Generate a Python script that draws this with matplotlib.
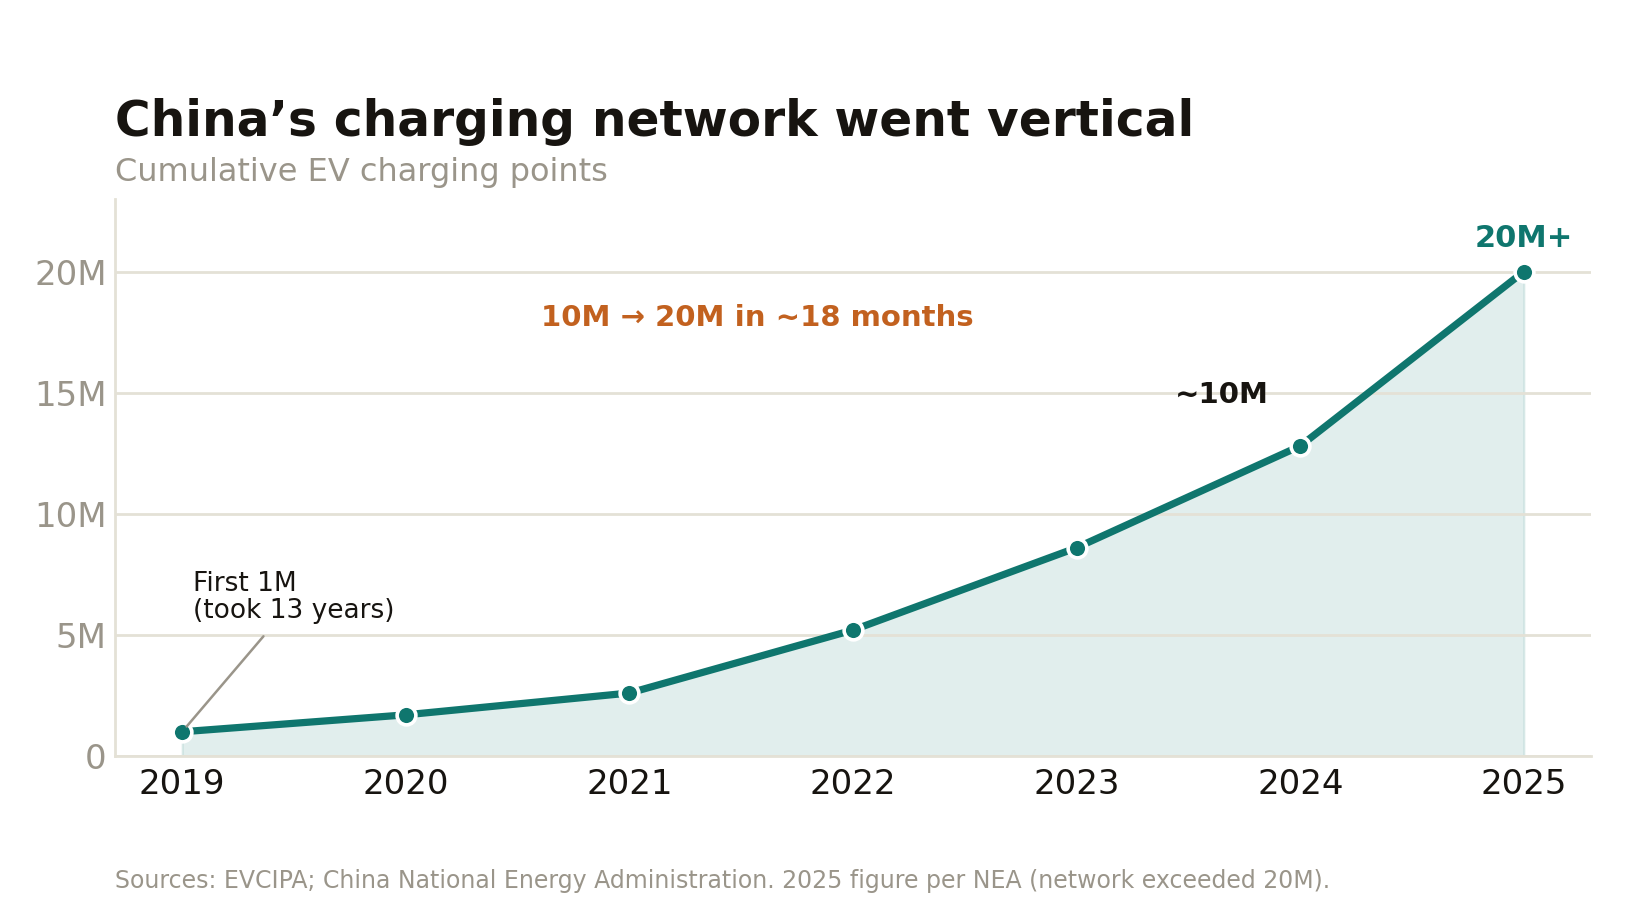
import numpy as np
import matplotlib
matplotlib.use("Agg")
import matplotlib.pyplot as plt
from matplotlib.ticker import FuncFormatter

# data (cumulative charging points, millions)
years = [2019, 2020, 2021, 2022, 2023, 2024, 2025]
points_m = [1.0, 1.7, 2.6, 5.2, 8.6, 12.8, 20.0]
yticks = [0, 5, 10, 15, 20]

teal = "#0f766e"
orange = "#c2611f"
grey = "#9a958a"
ink = "#171410"
rule = "#e4e1d6"

plt.rcParams['font.family'] = ['DejaVu Sans']

fig = plt.figure(figsize=(16.39, 9), dpi=100)
ax = fig.add_axes([0.0702, 0.16, 0.9005, 0.619])

x = np.array(years)
y = np.array(points_m) * 1e6

ax.fill_between(x, y, 0, color=teal, alpha=0.12, linewidth=1.5, zorder=1)
ax.plot(x, y, color=teal, lw=5.2, zorder=3, solid_capstyle="round")
ax.plot(x, y, "o", ms=13.5, mfc=teal, mec="white", mew=2.6, zorder=4)

ax.set_xlim(2018.70, 2025.30)
ax.set_ylim(0, 23e6)
ax.set_xticks(years)
ax.set_yticks([v * 1e6 for v in yticks])
ax.yaxis.set_major_formatter(FuncFormatter(lambda v, p: "0" if v == 0 else f"{int(v/1e6)}M"))
ax.tick_params(axis="both", length=0, labelsize=24.5)
ax.tick_params(axis="y", colors=grey, pad=6)
ax.tick_params(axis="x", colors=ink, pad=9)
ax.grid(axis="y", color=rule, lw=2, zorder=2)
ax.set_axisbelow(False)
for s in ["top", "right"]:
    ax.spines[s].set_visible(False)
for s in ["left", "bottom"]:
    ax.spines[s].set_color(rule)
    ax.spines[s].set_linewidth(2)

# annotations
ax.text(2021.57, 18.1e6, "10M \u2192 20M in ~18 months", color=orange, fontsize=21,
        fontweight="bold", ha="center", va="center", zorder=5)
ax.text(2023.65, 14.9e6, "~10M", color=ink, fontsize=21, fontweight="bold",
        ha="center", va="center", zorder=5)
ax.text(years[-1], 21.35e6, "20M+", color=teal, fontsize=22, fontweight="bold",
        ha="center", va="center", zorder=5)
ax.annotate("First 1M\n(took 13 years)", xy=(years[0], points_m[0] * 1e6),
            xytext=(2019.05, 5.45e6), fontsize=19, color=ink, ha="left", va="bottom",
            linespacing=1.05,
            arrowprops=dict(arrowstyle="-", color=grey, lw=1.8, relpos=(0.4, 0),
                            shrinkA=9, shrinkB=5), zorder=5)

fig.text(115 / 1639, 1 - 122 / 900, "China\u2019s charging network went vertical",
         fontsize=35, fontweight="bold", color=ink, ha="left", va="center")
fig.text(115 / 1639, 1 - 173 / 900, "Cumulative EV charging points",
         fontsize=23, color=grey, ha="left", va="center")
fig.text(115 / 1639, 1 - 881 / 900,
         "Sources: EVCIPA; China National Energy Administration. 2025 figure per NEA (network exceeded 20M).",
         fontsize=17, color=grey, ha="left", va="center")

fig.savefig("out.png", dpi=100)
